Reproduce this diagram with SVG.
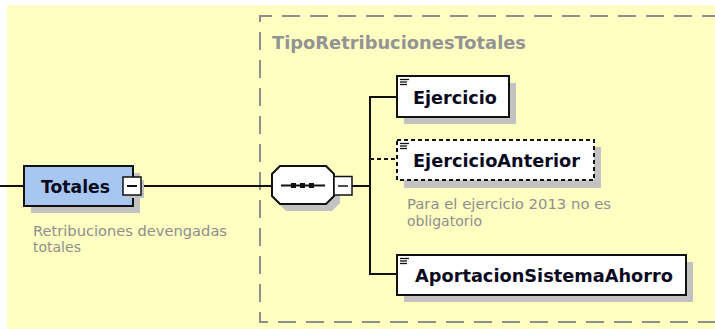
<svg xmlns="http://www.w3.org/2000/svg" width="715" height="329" viewBox="0 0 715 329">
<style>
.bg{fill:#ffffc2}
.shadow{fill:#c2c2c2}
.box{fill:#ffffff;stroke:#111;stroke-width:2}
.opt{fill:#ffffff;stroke:#111;stroke-width:2;stroke-dasharray:4 3}
.main{fill:#a7c7f0;stroke:#111;stroke-width:2}
.name{font-family:"DejaVu Sans",sans-serif;font-weight:bold;font-size:17.5px;fill:#0a0a1e}
.desc{font-family:"DejaVu Sans",sans-serif;font-size:14px;fill:#8e8e8e}
.title{font-family:"DejaVu Sans",sans-serif;font-weight:bold;font-size:17px;fill:#939393}
.ln{stroke:#111;stroke-width:2;fill:none}
.dl{stroke:#111;stroke-width:2;fill:none;stroke-dasharray:4 3}
.ic{stroke:#111;stroke-width:1.3}
</style>
<rect class="bg" x="7" y="5" width="708" height="324"/>
<g id="container">
<path d="M720 16 H260 V322 H720" fill="none" stroke="#8e8e8e" stroke-width="2" stroke-dasharray="18 10"/>
<text class="title" x="272" y="49" textLength="254" lengthAdjust="spacingAndGlyphs">TipoRetribucionesTotales</text>
</g>
<g id="connectors">
<line class="ln" x1="0" y1="186" x2="24" y2="186"/>
<line class="ln" x1="142" y1="186" x2="272" y2="186"/>
<line class="ln" x1="352" y1="186" x2="370" y2="186"/>
<line class="ln" x1="370" y1="96" x2="370" y2="275"/>
<line class="ln" x1="370" y1="97" x2="397" y2="97"/>
<line class="dl" x1="370" y1="159" x2="397" y2="159"/>
<line class="ln" x1="370" y1="274" x2="397" y2="274"/>
</g>
<g id="Totales">
<rect class="shadow" x="31" y="173" width="109" height="40"/>
<rect class="main" x="24" y="166" width="109" height="40"/>
<text class="name" x="41" y="193" textLength="69" lengthAdjust="spacingAndGlyphs">Totales</text>
<rect class="shadow" x="126" y="180" width="18" height="18"/>
<rect x="123" y="177" width="18" height="18" fill="#fff" stroke="#111" stroke-width="1.5"/>
<line class="ln" x1="127" y1="186" x2="137" y2="186" stroke-width="1.5"/>
<text class="desc" x="33" y="236" textLength="194" lengthAdjust="spacingAndGlyphs">Retribuciones devengadas</text>
<text class="desc" x="33" y="252">totales</text>
</g>
<g id="sequence">
<path d="M286 173 H332 L340 181 V203 L332 211 H286 L278 203 V181 Z" class="shadow"/>
<path d="M280 166 H326 L334 174 V196 L326 204 H280 L272 196 V174 Z" fill="#fff" stroke="#111" stroke-width="2"/>
<line class="ln" x1="281" y1="185.5" x2="325" y2="185.5" stroke-width="1.5"/>
<rect x="291" y="183" width="5" height="5" fill="#111"/>
<rect x="300" y="183" width="5" height="5" fill="#111"/>
<rect x="309" y="183" width="5" height="5" fill="#111"/>
<rect x="334" y="176.5" width="18" height="18.5" fill="#fff" stroke="#111" stroke-width="1.5"/>
<line x1="338" y1="186" x2="348" y2="186" stroke="#111" stroke-width="1.5"/>
</g>
<g id="Ejercicio">
<rect class="shadow" x="404" y="83" width="112" height="41"/>
<rect class="box" x="397" y="76" width="112" height="41"/>
<line class="ic" x1="400" y1="79.5" x2="409" y2="79.5"/>
<line class="ic" x1="400" y1="82" x2="407" y2="82"/>
<line class="ic" x1="400" y1="84.5" x2="407" y2="84.5"/>
<text class="name" x="413" y="104" textLength="84" lengthAdjust="spacingAndGlyphs">Ejercicio</text>
</g>
<g id="EjercicioAnterior">
<rect class="shadow" x="404" y="147" width="197" height="41"/>
<rect class="opt" x="397" y="140" width="197" height="40"/>
<line class="ic" x1="400" y1="143.5" x2="409" y2="143.5"/>
<line class="ic" x1="400" y1="146" x2="407" y2="146"/>
<line class="ic" x1="400" y1="148.5" x2="407" y2="148.5"/>
<text class="name" x="413" y="167" textLength="167" lengthAdjust="spacingAndGlyphs">EjercicioAnterior</text>
<text class="desc" x="407" y="209" textLength="204" lengthAdjust="spacingAndGlyphs">Para el ejercicio 2013 no es</text>
<text class="desc" x="407" y="226">obligatorio</text>
</g>
<g id="AportacionSistemaAhorro">
<rect class="shadow" x="404" y="262" width="289" height="40"/>
<rect class="box" x="397" y="255" width="289" height="40"/>
<line class="ic" x1="400" y1="258.5" x2="409" y2="258.5"/>
<line class="ic" x1="400" y1="261" x2="407" y2="261"/>
<line class="ic" x1="400" y1="263.5" x2="407" y2="263.5"/>
<text class="name" x="415" y="282" textLength="258" lengthAdjust="spacingAndGlyphs">AportacionSistemaAhorro</text>
</g>
</svg>
